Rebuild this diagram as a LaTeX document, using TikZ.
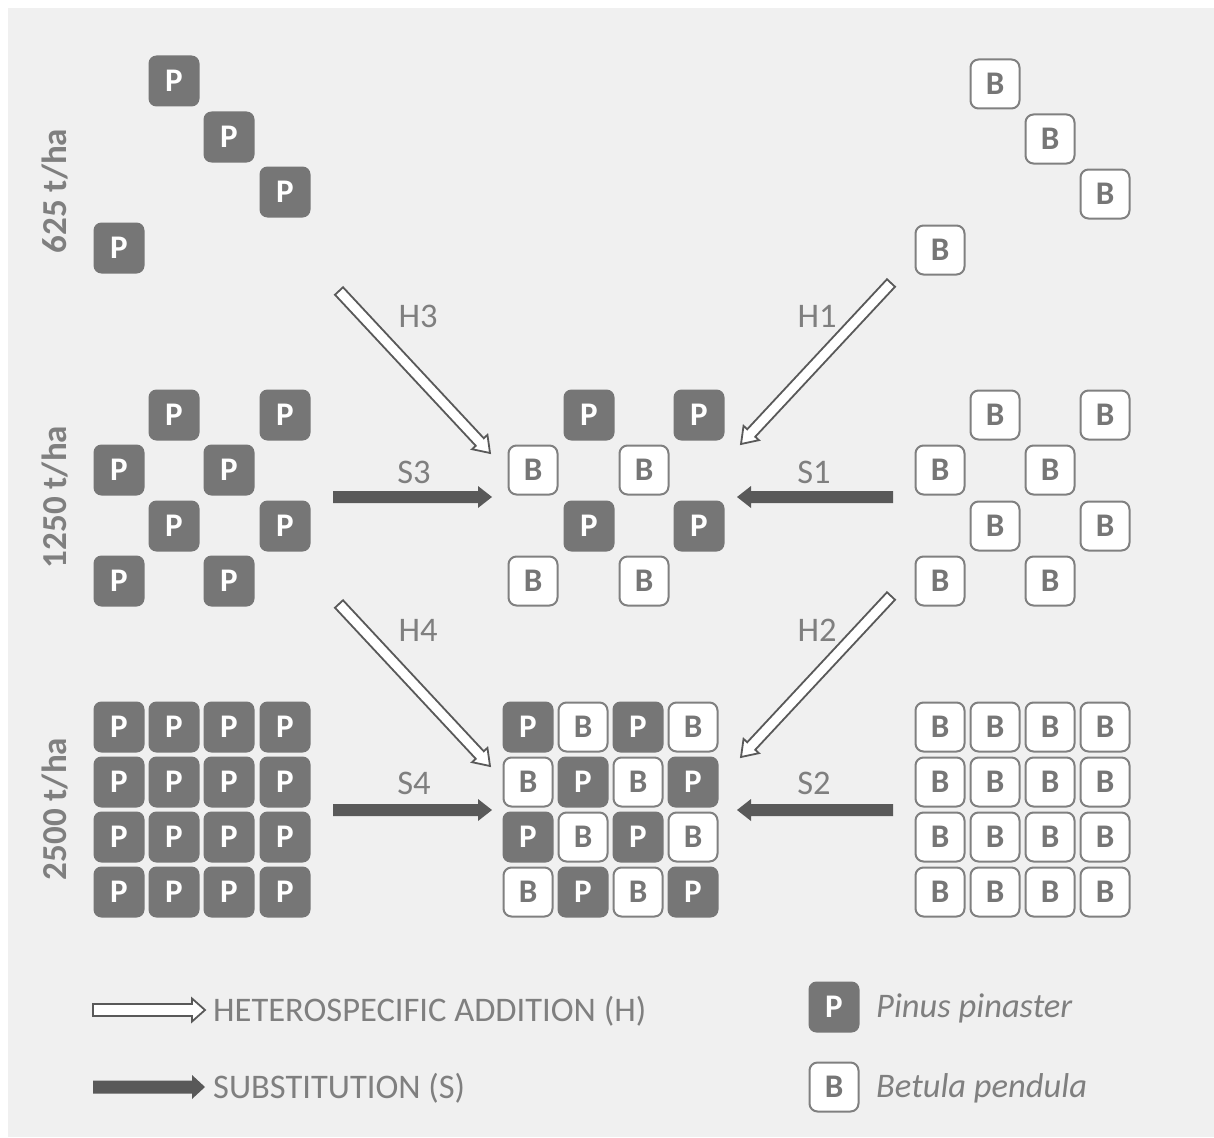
\documentclass[tikz,border=0pt]{standalone}
\usepackage{fontspec}
\setmainfont{Carlito}
\usetikzlibrary{calc}
\definecolor{pfill}{HTML}{767676}
\definecolor{bline}{HTML}{808080}
\definecolor{txt}{HTML}{7F7F7F}
\definecolor{arr}{HTML}{595959}
\definecolor{bg}{HTML}{F0F0F0}
\tikzset{
 tree/.style={minimum width=51pt, minimum height=51pt, inner sep=0pt, rounded corners=8pt, font=\fontsize{33}{33}\selectfont\bfseries},
 pbox/.style={tree, fill=pfill, text=white},
 bbox/.style={tree, fill=white, draw=bline, line width=2pt, text=pfill, minimum width=49pt, minimum height=49pt},
 lbl/.style={text=txt, font=\fontsize{34.5}{34.5}\selectfont, inner sep=0pt},
 itlbl/.style={text=txt, font=\fontsize{34.5}{34.5}\selectfont\itshape, inner sep=0pt},
 dens/.style={text=txt, font=\fontsize{35}{35}\selectfont\bfseries, rotate=90, inner sep=0pt},
 harr/.style={draw=arr, fill=white, line width=1.8pt, line join=miter},
 sarr/.style={fill=arr},
}
\newcommand\blockarrow[6]{%
 \coordinate (ba-c) at ($(#3)!#6!(#2)$);
 \path[#1] ($(#2)!#4!90:(#3)$) -- ($(ba-c)!#4!90:(#3)$) -- ($(ba-c)!#5!90:(#3)$) -- (#3) -- ($(ba-c)!#5!-90:(#3)$) -- ($(ba-c)!#4!-90:(#3)$) -- ($(#2)!#4!-90:(#3)$) -- cycle;
}
\begin{document}
\begin{tikzpicture}[x=1pt,y=-1pt]
\useasboundingbox (0,0) rectangle (1214,1137);
\fill[white] (0,0) rectangle (1214,1137);
\fill[bg] (8,8) rectangle (1214,1137);

% density labels
\node[dens] (d625) at (55,191) {625 t/ha};
\node[dens] (d1250) at (55,497) {1250 t/ha};
\node[dens] (d2500) at (55,809) {2500 t/ha};

% 625 t/ha
\foreach \x/\y [count=\i] in {174/81, 229/137, 285/192, 119/248}
  \node[pbox] (lp625-\i) at (\x,\y) {P};
\foreach \x/\y [count=\i] in {995/84, 1050/139, 1105/194, 940/250}
  \node[bbox] (rb625-\i) at (\x,\y) {B};

% 1250 t/ha
\foreach \x/\y [count=\i] in {174/415,285/415,119/470,229/470,174/526,285/526,119/581,229/581}
  \node[pbox] (lp1250-\i) at (\x,\y) {P};
\foreach \x/\y [count=\i] in {589/415,699/415,589/526,699/526}
  \node[pbox] (mp1250-\i) at (\x,\y) {P};
\foreach \x/\y [count=\i] in {533/470,644/470,533/581,644/581}
  \node[bbox] (mb1250-\i) at (\x,\y) {B};
\foreach \x/\y [count=\i] in {995/415,1105/415,940/470,1050/470,995/526,1105/526,940/581,1050/581}
  \node[bbox] (rb1250-\i) at (\x,\y) {B};

% 2500 t/ha
\foreach \x [count=\i] in {119,174,229,285}
  \foreach \y [count=\j] in {727,782,837,892}
    \node[pbox] (lp2500-\i-\j) at (\x,\y) {P};
\foreach \x [count=\i] in {528,583,638,693}
  \foreach \y [count=\j] in {727,782,837,892}
  {\pgfmathtruncatemacro\k{mod(\i+\j,2)}
   \ifnum\k=0 \node[pbox] (m2500-\i-\j) at (\x,\y) {P};
   \else \node[bbox] (m2500-\i-\j) at (\x,\y) {B};\fi}
\foreach \x [count=\i] in {940,995,1050,1105}
  \foreach \y [count=\j] in {727,782,837,892}
    \node[bbox] (rb2500-\i-\j) at (\x,\y) {B};

% arrow ends
\coordinate (h3s) at (339,291); \coordinate (h3e) at (490,453);
\coordinate (h1s) at (891,283); \coordinate (h1e) at (741,444);
\coordinate (h4s) at (339,604); \coordinate (h4e) at (490,766);
\coordinate (h2s) at (891,596); \coordinate (h2e) at (741,757);
\coordinate (s3s) at (333,497); \coordinate (s3e) at (492,497);
\coordinate (s1s) at (893,497); \coordinate (s1e) at (737,497);
\coordinate (s4s) at (333,810); \coordinate (s4e) at (492,810);
\coordinate (s2s) at (893,810); \coordinate (s2e) at (737,810);

\blockarrow{harr}{h3s}{h3e}{5.5pt}{10.5pt}{15pt}
\blockarrow{harr}{h1s}{h1e}{5.5pt}{10.5pt}{15pt}
\blockarrow{harr}{h4s}{h4e}{5.5pt}{10.5pt}{15pt}
\blockarrow{harr}{h2s}{h2e}{5.5pt}{10.5pt}{15pt}
\blockarrow{sarr}{s3s}{s3e}{6pt}{11pt}{14pt}
\blockarrow{sarr}{s1s}{s1e}{6pt}{11pt}{14pt}
\blockarrow{sarr}{s4s}{s4e}{6pt}{11pt}{14pt}
\blockarrow{sarr}{s2s}{s2e}{6pt}{11pt}{14pt}

% arrow labels
\node[lbl] (lh3) at (418,316) {H3};
\node[lbl] (lh1) at (817,316) {H1};
\node[lbl] (ls3) at (414,472) {S3};
\node[lbl] (ls1) at (814,472) {S1};
\node[lbl] (lh4) at (418,630) {H4};
\node[lbl] (lh2) at (817,630) {H2};
\node[lbl] (ls4) at (414,783) {S4};
\node[lbl] (ls2) at (814,783) {S2};

% legend
\coordinate (lgh1) at (93,1010); \coordinate (lgh2) at (205,1010);
\coordinate (lgs1) at (93,1087); \coordinate (lgs2) at (205,1087);
\blockarrow{harr}{lgh1}{lgh2}{6pt}{11.5pt}{13pt}
\blockarrow{sarr}{lgs1}{lgs2}{6.5pt}{12pt}{13pt}
\node[lbl, anchor=west] (lgH) at (213,1011) {HETEROSPECIFIC ADDITION (H)};
\node[lbl, anchor=west] (lgS) at (213,1088) {SUBSTITUTION (S)};
\node[pbox] (legP) at (834,1007) {P};
\node[bbox] (legB) at (834,1087) {B};
\node[itlbl, anchor=west] (lgPt) at (876,1008) {Pinus pinaster};
\node[itlbl, anchor=west] (lgBt) at (876,1088) {Betula pendula};
\end{tikzpicture}
\end{document}
